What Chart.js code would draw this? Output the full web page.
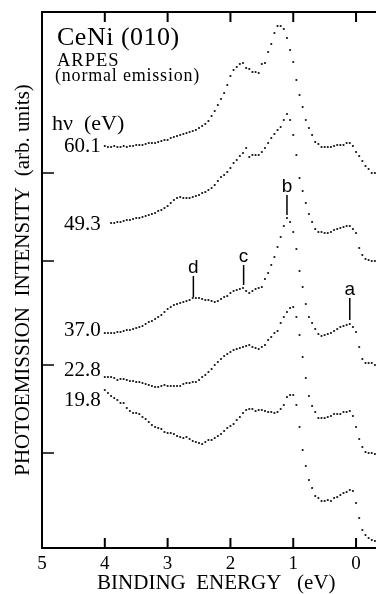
<!DOCTYPE html>
<html>
<head>
<meta charset="utf-8">
<script src="https://cdn.jsdelivr.net/npm/chart.js@4.4.0/dist/chart.umd.min.js"></script>
<style>
  html, body { margin: 0; padding: 0; background: #fff; }
</style>
</head>
<body>
<canvas id="arpes" width="376" height="594"></canvas>
<script>
// binding energy (eV) of each measured point
var energy = [
  4.00, 3.95, 3.90, 3.85, 3.80, 3.75, 3.70, 3.65, 3.60, 3.55,
  3.50, 3.45, 3.40, 3.35, 3.30, 3.25, 3.20, 3.15, 3.10, 3.05,
  3.00, 2.95, 2.90, 2.85, 2.80, 2.75, 2.70, 2.65, 2.60, 2.55,
  2.50, 2.45, 2.40, 2.35, 2.30, 2.25, 2.20, 2.15, 2.10, 2.05,
  2.00, 1.95, 1.90, 1.85, 1.80, 1.75, 1.70, 1.65, 1.60, 1.55,
  1.50, 1.45, 1.40, 1.35, 1.30, 1.25, 1.20, 1.15, 1.10, 1.05,
  1.00, 0.95, 0.90, 0.85, 0.80, 0.75, 0.70, 0.65, 0.60, 0.55,
  0.50, 0.45, 0.40, 0.35, 0.30, 0.25, 0.20, 0.15, 0.10, 0.05,
  0.00, -0.05, -0.10, -0.15, -0.20, -0.25, -0.30
];

// photoemission intensity (arb. units, curves offset) per photon energy
var hv601 = [
  402, 401, 401, 402, 401, 401, 402, 401, 402, 402,
  403, 403, 403, 404, 405, 405, 405, 406, 407, 408,
  408, 410, 411, 412, 413, 414, 415, 416, 417, 418,
  420, 422, 424, 427, 432, 437, 443, 449, 455, 463,
  472, 478, 481, 484, 485, 480, 479, 476, 476, 475,
  484, 485, 496, 504, 515, 522, 522, 519, 510, 498,
  486, 468, 453, 441, 428, 420, 413, 406, 404, 401,
  401, 401, 401, 402, 403, 403, 403, 405, 405, 402,
  396, 392, 387, 382, 379, 375, 375
];
var hv493 = [
  null, null, 325, 325, 326, 326, 327, 328, 328, 329,
  330, 330, 331, 332, 333, 334, 335, 337, 338, 340,
  342, 345, 348, 350, 351, 350, 350, 350, 351, 352,
  353, 355, 356, 358, 360, 363, 367, 371, 373, 376,
  380, 385, 388, 392, 395, 400, 391, 393, 393, 393,
  396, 400, 405, 410, 414, 418, 421, 428, 434, 428,
  413, 393, 370, 357, 345, 334, 326, 319, 316, 316,
  315, 315, 316, 318, 319, 320, 321, 322, 322, 319,
  315, 300, 293, 289, 288, 287, 287
];
var hv370 = [
  215, 215, 215, 215, 216, 216, 217, 218, 218, 219,
  220, 221, 222, 224, 226, 227, 229, 231, 233, 236,
  239, 241, 243, 244, 245, 246, 247, 248, 250, 250,
  250, 249, 248, 248, 247, 246, 247, 249, 251, 252,
  255, 257, 258, 259, 260, 257, 255, 257, 259, 260,
  261, 269, 275, 283, 291, 301, 311, 322, 330, 326,
  316, 299, 277, 261, 244, 231, 225, 219, 214, 212,
  213, 214, 215, 217, 219, 221, 222, 223, 224, 221,
  216, 201, 189, 185, 185, 185, 183
];
var hv228 = [
  171, 171, 171, 170, 168, 169, 169, 168, 167, 167,
  166, 166, 165, 164, 163, 162, 161, 161, 162, 163,
  162, 162, 162, 162, 162, 164, 165, 165, 166, 166,
  168, 171, 173, 176, 179, 183, 186, 189, 192, 194,
  196, 198, 199, 200, 201, 202, 203, 201, 200, 199,
  201, 203, 208, 211, 215, 217, 225, 231, 236, 240,
  241, 231, 213, 191, 170, 152, 142, 136, 130, 130,
  130, 131, 132, 134, 134, 134, 136, 136, 137, 132,
  121, 109, 101, 96, 95, 95, 94
];
var hv198 = [
  158, 155, 152, 150, 148, 145, 145, 140, 137, 135,
  135, 134, 131, 129, 126, 123, 121, 120, 119, 116,
  115, 115, 114, 112, 111, 110, 111, 109, 107, 106,
  105, 104, 106, 108, 108, 110, 112, 114, 117, 120,
  122, 124, 128, 131, 135, 138, 139, 139, 137, 138,
  138, 137, 136, 136, 135, 136, 139, 143, 151, 153,
  153, 143, 121, 98, 82, 68, 60, 52, 50, 47,
  47, 48, 47, 50, 51, 53, 55, 56, 58, 57,
  45, 30, 18, 13, 10, 8, 7
];

var hvNames = ["60.1", "49.3", "37.0", "22.8", "19.8"];
var hvLevels = [402, 324, 218, 178, 148]; // where each name sits
var xTicks = [5, 4, 3, 2, 1, 0];
var yTicks = [95, 183, 287, 375];

// peak markers a-d
var peakNames = ["a", "b", "c", "d"];
var peakEnergy = [0.10, 1.10, 1.79, 2.59];
var peakFrom = [228, 333, 263, 251];
var peakTo = [250, 353, 283, 272];

var serif = "'Liberation Serif', 'Times New Roman', serif";
var sans = "'Liberation Sans', Arial, sans-serif";

function toPoints(vals) {
  var pts = [];
  energy.forEach(function (e, i) {
    if (vals[i] !== null) pts.push({ x: e, y: vals[i] });
  });
  return pts;
}

var series = [hv601, hv493, hv370, hv228, hv198];
var datasets = series.map(function (vals, k) {
  return {
    label: hvNames[k],
    data: toPoints(vals),
    showLine: false,
    pointRadius: 1.1,
    pointHoverRadius: 1.1,
    pointBorderWidth: 0,
    pointBackgroundColor: "#111",
    clip: false
  };
});

function spaced(ctx, px) {
  if ("letterSpacing" in ctx) ctx.letterSpacing = px + "px";
}

var frame = {
  id: "frame",
  afterDraw: function (chart) {
    var ctx = chart.ctx, a = chart.chartArea;
    var xs = chart.scales.x, ys = chart.scales.y;
    ctx.save();
    ctx.strokeStyle = "#000";
    ctx.lineWidth = 2;
    ctx.beginPath();
    ctx.moveTo(chart.width, a.top);
    ctx.lineTo(a.left, a.top);
    ctx.lineTo(a.left, a.bottom);
    ctx.lineTo(chart.width, a.bottom);
    ctx.stroke();
    xTicks.forEach(function (v) {
      var px = xs.getPixelForValue(v);
      ctx.beginPath();
      ctx.moveTo(px, a.top); ctx.lineTo(px, a.top + 10);
      ctx.moveTo(px, a.bottom); ctx.lineTo(px, a.bottom - 10);
      ctx.stroke();
    });
    ctx.lineWidth = 1.5;
    yTicks.forEach(function (v) {
      var py = ys.getPixelForValue(v);
      ctx.beginPath();
      ctx.moveTo(a.left, py); ctx.lineTo(a.left + 12, py);
      ctx.stroke();
    });

    // peak markers
    ctx.fillStyle = "#000";
    ctx.textAlign = "center";
    ctx.textBaseline = "alphabetic";
    ctx.font = "19px " + sans;
    peakNames.forEach(function (t, i) {
      var px = xs.getPixelForValue(peakEnergy[i]);
      var y0 = ys.getPixelForValue(peakFrom[i]);
      var y1 = ys.getPixelForValue(peakTo[i]);
      ctx.beginPath();
      ctx.moveTo(px, y0); ctx.lineTo(px, y1);
      ctx.stroke();
      ctx.fillText(t, px, y1 - 3);
    });

    // photon energy labels
    ctx.textAlign = "right";
    ctx.textBaseline = "middle";
    ctx.font = "21px " + serif;
    var lx = xs.getPixelForValue(4.0) - 4;
    hvNames.forEach(function (t, i) {
      ctx.fillText(t, lx, ys.getPixelForValue(hvLevels[i]));
    });

    // header text
    ctx.textAlign = "left";
    ctx.textBaseline = "alphabetic";
    ctx.font = "26px " + serif;
    spaced(ctx, 0.5);
    ctx.fillText("CeNi (010)", a.left + 15, 45);
    ctx.font = "18.5px " + serif;
    spaced(ctx, 1);
    ctx.fillText("ARPES", a.left + 15, 66);
    ctx.font = "18px " + serif;
    spaced(ctx, 0.8);
    ctx.fillText("(normal emission)", a.left + 13, 81);
    ctx.font = "22px " + serif;
    spaced(ctx, 0);
    ctx.fillText("h\u03bd  (eV)", a.left + 10, 130);
    ctx.restore();
  }
};

new Chart(document.getElementById("arpes"), {
  type: "scatter",
  data: { datasets: datasets },
  options: {
    responsive: false,
    animation: false,
    events: [],
    layout: { padding: { top: 12, right: 0, left: 0, bottom: 0 } },
    plugins: { legend: { display: false }, tooltip: { enabled: false } },
    scales: {
      x: {
        type: "linear",
        reverse: true,
        min: -0.3,
        max: 5,
        afterBuildTicks: function (s) { s.ticks = xTicks.map(function (v) { return { value: v }; }); },
        afterFit: function (s) { s.height = 46; },
        grid: { display: false, drawTicks: false },
        border: { display: false },
        ticks: { color: "#000", font: { family: serif, size: 19 }, padding: 5, maxRotation: 0, autoSkip: false },
        title: {
          display: true,
          text: "   BINDING  ENERGY   (eV)",
          color: "#000",
          font: { family: serif, size: 21, lineHeight: 1 },
          padding: { top: 0, bottom: 0 }
        }
      },
      y: {
        min: 0,
        max: 536,
        afterBuildTicks: function (s) { s.ticks = yTicks.map(function (v) { return { value: v }; }); },
        afterFit: function (s) { s.width = 42; },
        grid: { display: false, drawTicks: false },
        border: { display: false },
        ticks: { display: false },
        title: {
          display: true,
          text: "PHOTOEMISSION  INTENSITY  (arb. units)",
          color: "#000",
          font: { family: serif, size: 21 },
          padding: { top: 11, bottom: 0 }
        }
      }
    }
  },
  plugins: [frame]
});
</script>
</body>
</html>
